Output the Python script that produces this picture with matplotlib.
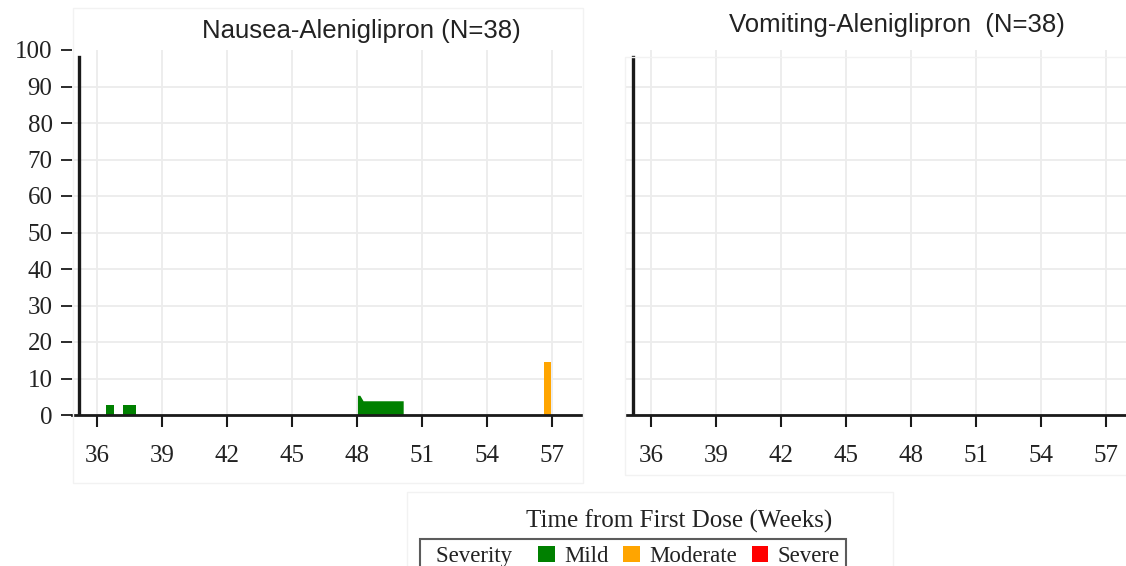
import matplotlib
matplotlib.use('Agg')
import matplotlib.pyplot as plt
from matplotlib.patches import Patch, Rectangle

# data (percent of subjects, by week from first dose)
week_ticks = [36, 39, 42, 45, 48, 51, 54, 57]
pct_ticks = list(range(0, 101, 10))

mild_a_weeks = [36.43, 36.80]
mild_a_pct = [2.8, 2.8]
mild_b_weeks = [37.18, 37.81]
mild_b_pct = [2.8, 2.8]
mild_c_weeks = [48.02, 48.13, 48.28, 50.13]
mild_c_pct = [5.4, 5.4, 3.9, 3.9]
moderate_weeks = [56.61, 56.96]
moderate_pct = [14.5, 14.5]

severity_labels = ['Mild', 'Moderate', 'Severe']
severity_colors = ['#008000', '#FFA500', '#FF0000']

titles = ['Nausea-Aleniglipron (N=38)', 'Vomiting-Aleniglipron  (N=38)']
xlabel = 'Time from First Dose (Weeks)'

# layout (pixels of a 1126x566 image)
W, H = 1126, 566
x_min, x_max = 34.85, 58.38
axis_week = 35.16
dark = '#1a1a1a'


def fx(px):
    return px / W


def fy(py):
    return 1 - py / H


fig = plt.figure(figsize=(W / 100, H / 100), dpi=100)

# faint panel frames seen in the source image
for (x0, y0, x1, y1) in [(73, 8, 583, 483), (625, 57, 1130, 475), (407, 492, 893, 570)]:
    fig.patches.append(Rectangle((fx(x0), fy(y1)), fx(x1) - fx(x0), fy(y0) - fy(y1),
                                 transform=fig.transFigure, fill=False,
                                 edgecolor='#f2f2f2', lw=1))

ax1 = fig.add_axes([fx(72), fy(415), 510 / W, 365 / H])
ax2 = fig.add_axes([fx(626), fy(415), 510 / W, 365 / H])

for ax in (ax1, ax2):
    ax.set_xlim(x_min, x_max)
    ax.set_ylim(0, 100)
    ax.set_xticks(week_ticks)
    ax.set_yticks(pct_ticks)
    ax.grid(True, color='#ececec', lw=1.3)
    ax.set_axisbelow(True)
    ax.get_ygridlines()[-1].set_visible(False)
    for s in ['top', 'right', 'left']:
        ax.spines[s].set_visible(False)
    ax.spines['bottom'].set_linewidth(2)
    ax.spines['bottom'].set_color(dark)
    ax.axvline(axis_week, ymax=0.98, color=dark, lw=2.4, zorder=3)
    ax.tick_params(axis='x', length=8.6, width=1.5, pad=13, labelsize=18,
                   color=dark, labelcolor='#222222')
    for lab in ax.get_xticklabels():
        lab.set_family('Liberation Serif')

ax1.tick_params(axis='y', length=8, width=1.3, pad=6, labelsize=18,
                color=dark, labelcolor='#222222')
for lab in ax1.get_yticklabels():
    lab.set_family('Liberation Serif')
ax2.tick_params(axis='y', left=False, labelleft=False)

# Nausea panel
for wk, pc in [(mild_a_weeks, mild_a_pct), (mild_b_weeks, mild_b_pct), (mild_c_weeks, mild_c_pct)]:
    ax1.fill_between(wk, 0, pc, color=severity_colors[0], lw=0, zorder=2)
ax1.fill_between(moderate_weeks, 0, moderate_pct, color=severity_colors[1], lw=0, zorder=2)

# titles and shared x label
fig.text(fx(361), fy(31), titles[0], ha='center', va='center', fontsize=18.5,
         family='Liberation Sans', color='#222222')
fig.text(fx(897), fy(25), titles[1], ha='center', va='center', fontsize=18.5,
         family='Liberation Sans', color='#222222')
fig.text(fx(679), fy(521), xlabel, ha='center', va='center', fontsize=18,
         family='Liberation Serif', color='#222222')

# legend
handles = [Patch(facecolor='none', edgecolor='none')]
handles += [Patch(facecolor=c, edgecolor='none') for c in severity_colors]
labels = ['Severity  '] + severity_labels
leg = fig.legend(handles, labels, loc='upper center', bbox_to_anchor=(fx(633), fy(539)),
                 ncol=4, frameon=True, fancybox=False, borderaxespad=0,
                 handlelength=0.72, handleheight=0.72, handletextpad=0.4,
                 columnspacing=0.65, borderpad=0.3,
                 prop={'family': 'Liberation Serif', 'size': 16.5})
leg.get_frame().set_edgecolor('#333333')
leg.get_frame().set_linewidth(1.5)
for t in leg.get_texts():
    t.set_color('#222222')
try:
    leg._legend_handle_box.get_children()[0].get_children()[0].get_children()[0].width = 0
except Exception:
    pass

fig.savefig('out.png', dpi=100)
